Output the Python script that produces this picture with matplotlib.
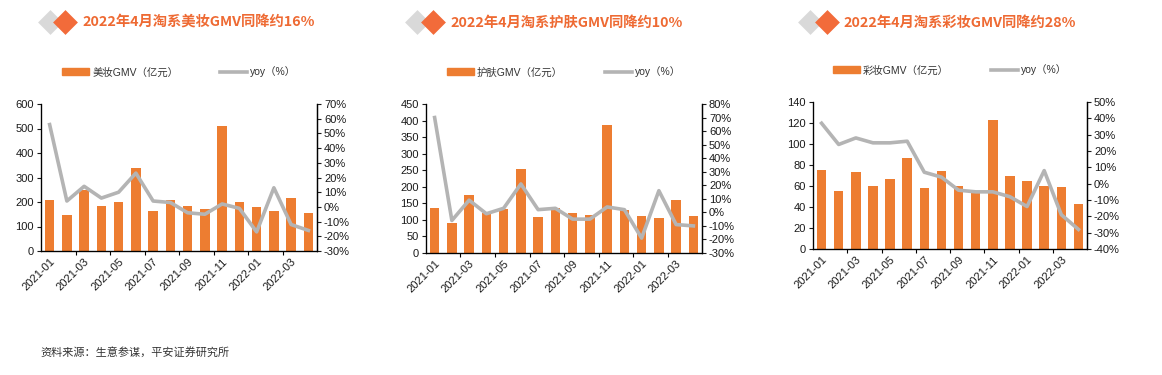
import matplotlib
matplotlib.use('Agg')
import matplotlib.pyplot as plt
from matplotlib.patches import Rectangle
from matplotlib.lines import Line2D
import numpy as np

plt.rcParams['font.family'] = ['Liberation Sans', 'Noto Sans CJK SC', 'DejaVu Sans']

months = ['2021-01', '2021-02', '2021-03', '2021-04', '2021-05', '2021-06', '2021-07', '2021-08',
          '2021-09', '2021-10', '2021-11', '2021-12', '2022-01', '2022-02', '2022-03', '2022-04']

# 美妆
beauty_gmv = [210, 145, 250, 185, 198, 340, 165, 210, 182, 170, 510, 198, 178, 165, 218, 157]
beauty_yoy = [56, 4, 14, 6, 10, 23, 4, 3, -4, -5, 2, -1, -17, 13, -12, -16]
# 护肤
skin_gmv = [135, 90, 175, 122, 132, 253, 108, 135, 120, 115, 387, 130, 112, 106, 160, 112]
skin_yoy = [70, -6, 9, -1, 3, 21, 2, 3, -5, -5, 4, 2, -19, 16, -9, -10]
# 彩妆
color_gmv = [75, 55, 73, 60, 67, 87, 58, 74, 60, 54, 123, 70, 65, 60, 59, 43]
color_yoy = [37, 24, 28, 25, 25, 26, 7, 4, -4, -5, -5, -8, -14, 8, -19, -28]

titles = ['2022年4月淘系美妆GMV同降约16%', '2022年4月淘系护肤GMV同降约10%', '2022年4月淘系彩妆GMV同降约28%']
bar_labels = ['美妆GMV（亿元）', '护肤GMV（亿元）', '彩妆GMV（亿元）']
left_ticks = [np.arange(0, 601, 100), np.arange(0, 451, 50), np.arange(0, 141, 20)]
right_ticks = [np.arange(-30, 71, 10), np.arange(-30, 81, 10), np.arange(-40, 51, 10)]

bar_color = '#ED7D31'
line_color = '#B4B4B4'
title_color = '#EE6A33'
W, H = 1162, 375

fig = plt.figure(figsize=(W / 100, H / 100), dpi=100)

# axes boxes in pixels: left, top, right, bottom
boxes = [(41, 104, 317, 251), (426, 104, 702, 253), (813, 102, 1087, 249)]
title_x = [82, 450, 843]
diamond_x = [(50, 65), (417, 433), (810, 827)]

all_gmv = [beauty_gmv, skin_gmv, color_gmv]
all_yoy = [beauty_yoy, skin_yoy, color_yoy]

x = np.arange(len(months))
for i in range(3):
    l, t, r, b = boxes[i]
    ax = fig.add_axes([l / W, 1 - b / H, (r - l) / W, (b - t) / H])
    ax.bar(x, all_gmv[i], width=0.56, color=bar_color, zorder=2)
    ax.set_xlim(-0.5, len(months) - 0.5)
    ax.set_ylim(left_ticks[i][0], left_ticks[i][-1])
    ax.set_yticks(left_ticks[i])
    ax.tick_params(axis='y', labelsize=8, length=3, width=0.8, pad=2, colors='#1a1a1a')
    # ticks at category boundaries, labels at odd months
    ax.set_xticks(np.arange(1.5, len(months) - 1, 2))
    ax.set_xticklabels([])
    ax.tick_params(axis='x', length=3, width=0.8)
    ax.set_xticks(x[::2], minor=True)
    ax.set_xticklabels(months[::2], minor=True, rotation=45, ha='right', va='top',
                       rotation_mode='anchor', fontsize=8, color='#1a1a1a')
    ax.tick_params(axis='x', which='minor', length=0, pad=4)
    ax.spines['top'].set_visible(False)
    for s in ['left', 'bottom', 'right']:
        ax.spines[s].set_linewidth(0.9)

    ax2 = ax.twinx()
    ax2.plot(x, all_yoy[i], color=line_color, lw=2.6, zorder=3)
    ax2.set_ylim(right_ticks[i][0], right_ticks[i][-1])
    ax2.set_yticks(right_ticks[i])
    ax2.set_yticklabels([f'{v}%' for v in right_ticks[i]])
    ax2.tick_params(axis='y', labelsize=8, length=3, width=0.8, pad=2, colors='#1a1a1a')
    ax2.spines['top'].set_visible(False)
    ax2.spines['right'].set_linewidth(0.9)

    handles = [Rectangle((0, 0), 1, 1, color=bar_color),
               Line2D([0], [0], color=line_color, lw=2.6)]
    leg = ax.legend(handles, [bar_labels[i], 'yoy（%）'], ncol=2, frameon=False,
                    loc='center', bbox_to_anchor=(0.5, 1 + 32 / (b - t)),
                    fontsize=7.5, handlelength=2.6, handleheight=0.6,
                    columnspacing=4.0, handletextpad=0.3)
    for txt in leg.get_texts():
        txt.set_color('#333333')

    fig.text(title_x[i] / W, 1 - 23 / H, titles[i], fontsize=10.3, fontweight='bold',
             color=title_color, va='center', ha='left',
             family=['Noto Sans CJK SC', 'DejaVu Sans'])

# diamond icons next to titles
deco = fig.add_axes([0, 0, 1, 1])
deco.set_xlim(0, W)
deco.set_ylim(H, 0)
deco.axis('off')
deco.patch.set_alpha(0)
for gx, ox in diamond_x:
    deco.scatter([gx], [22], marker='D', s=160, color='#D9D9D9', linewidths=0)
    deco.scatter([ox], [22], marker='D', s=160, color='#F26B3A', linewidths=0)

fig.text(40 / W, 1 - 352 / H, '资料来源：生意参谋，平安证券研究所', fontsize=8, color='#333333',
         va='center', ha='left', family=['Noto Sans CJK SC', 'DejaVu Sans'])

fig.savefig('out.png', dpi=100, facecolor='white')
